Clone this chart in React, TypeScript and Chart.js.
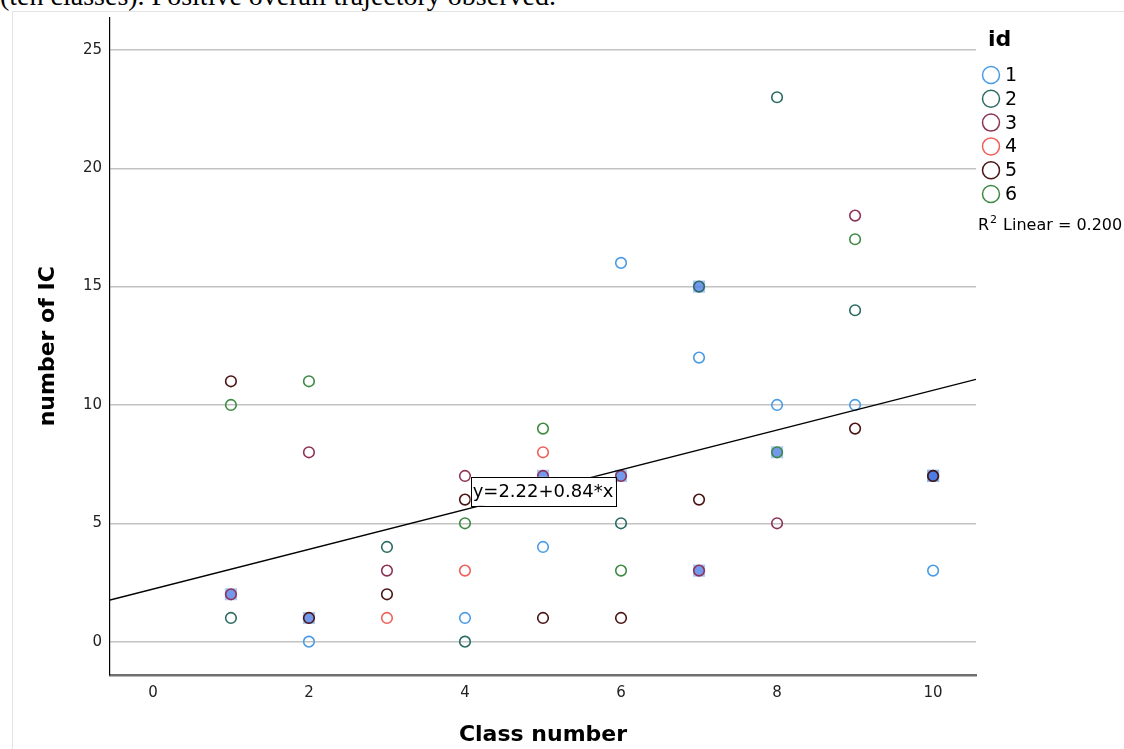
import React, { useEffect, useRef } from "react";
import { Chart, registerables } from "chart.js";

Chart.register(...registerables);

// ---------- data ----------
const classTicks = [0, 2, 4, 6, 8, 10];
const valueTicks = [0, 5, 10, 15, 20, 25];
const idLabels = ["1", "2", "3", "4", "5", "6"];

const id1Class = [2, 4, 5, 6, 7, 8, 9, 10];
const id1Value = [0, 1, 4, 16, 12, 10, 10, 3];
const id2Class = [1, 3, 4, 6, 8, 9];
const id2Value = [1, 4, 0, 5, 23, 14];
const id3Class = [2, 3, 4, 8, 9];
const id3Value = [8, 3, 7, 5, 18];
const id4Class = [3, 4, 5];
const id4Value = [1, 3, 8];
const id5Class = [1, 3, 4, 5, 6, 7, 9];
const id5Value = [11, 2, 6, 1, 1, 6, 9];
const id6Class = [1, 2, 4, 5, 6, 9];
const id6Value = [10, 11, 5, 9, 3, 17];

// highlighted (selected) points
const selectedClass = [1, 2, 5, 6, 7, 7, 8, 10, 10];
const selectedValue = [2, 1, 7, 7, 15, 3, 8, 7, 7];
const selectedId = [3, 5, 3, 3, 2, 3, 6, 2, 5];

const fitIntercept = 2.22;
const fitSlope = 0.84;
const rSquared = 0.2;
const fitLabel = "y=2.22+0.84*x";
const fitLabelClass = 5;
const fitLabelValue = 6.35;

const xMin = -0.55;
const xMax = 10.55;
const yMin = -1.41;
const yMax = 26.37;

// ---------- styles ----------
const idColors = ["#4a9be6", "#2a6b63", "#8e3358", "#f0605a", "#4a1414", "#3f8a43"];
const FONT = "'DejaVu Sans', sans-serif";

const seriesClass = [id1Class, id2Class, id3Class, id4Class, id5Class, id6Class];
const seriesValue = [id1Value, id2Value, id3Value, id4Value, id5Value, id6Value];

const toPoints = (xs: number[], ys: number[]) => xs.map((x, i) => ({ x, y: ys[i] }));

const overlayPlugin = {
  id: "overlay",
  afterDatasetsDraw(chart: any) {
    const { ctx, chartArea, scales } = chart;
    // fit equation label
    const px = scales.x.getPixelForValue(fitLabelClass);
    const py = scales.y.getPixelForValue(fitLabelValue);
    ctx.save();
    ctx.font = `18px ${FONT}`;
    const w = ctx.measureText(fitLabel).width + 4;
    const h = 29;
    ctx.fillStyle = "#fff";
    ctx.fillRect(px - w / 2, py - h / 2, w, h);
    ctx.strokeStyle = "#000";
    ctx.lineWidth = 1;
    ctx.strokeRect(Math.round(px - w / 2) + 0.5, Math.round(py - h / 2) + 0.5, Math.round(w), h);
    ctx.fillStyle = "#000";
    ctx.textAlign = "center";
    ctx.textBaseline = "middle";
    ctx.fillText(fitLabel, px, py + 1);
    ctx.restore();

    // legend
    const lx = chartArea.right;
    ctx.save();
    ctx.fillStyle = "#000";
    ctx.textBaseline = "middle";
    ctx.textAlign = "left";
    ctx.font = `bold 22px ${FONT}`;
    ctx.fillText("id", lx + 12, 40);
    idLabels.forEach((lab, i) => {
      const cy = 75 + i * 23.8;
      ctx.beginPath();
      ctx.arc(lx + 15, cy, 8.5, 0, Math.PI * 2);
      ctx.strokeStyle = idColors[i];
      ctx.lineWidth = 1.5;
      ctx.stroke();
      ctx.fillStyle = "#000";
      ctx.font = `19px ${FONT}`;
      ctx.fillText(lab, lx + 29, cy + 1);
    });
    ctx.font = `16px ${FONT}`;
    let tx = lx + 2;
    const ty = 226;
    ctx.fillText("R", tx, ty);
    tx += ctx.measureText("R").width + 1;
    ctx.font = `11px ${FONT}`;
    ctx.fillText("2", tx, ty - 6);
    tx += ctx.measureText("2").width + 6;
    ctx.font = `16px ${FONT}`;
    ctx.fillText(`Linear = ${rSquared.toFixed(3)}`, tx, ty);
    ctx.restore();
  },
};

export default function App() {
  const ref = useRef<HTMLCanvasElement | null>(null);

  useEffect(() => {
    if (!ref.current) return;
    const tickFont = { family: FONT, size: 15 };
    const datasets: any[] = [];

    datasets.push({
      type: "line",
      label: "fit",
      data: [
        { x: xMin, y: fitIntercept + fitSlope * xMin },
        { x: xMax, y: fitIntercept + fitSlope * xMax },
      ],
      borderColor: "#000",
      borderWidth: 1.4,
      pointRadius: 0,
      showLine: true,
      fill: false,
      order: 1,
    });

    seriesClass.forEach((xs, i) => {
      datasets.push({
        type: "scatter",
        label: idLabels[i],
        data: toPoints(xs, seriesValue[i]),
        pointRadius: 5.3,
        pointBorderWidth: 1.6,
        pointBackgroundColor: "rgba(0,0,0,0)",
        pointBorderColor: idColors[i],
        order: 2,
      });
    });

    datasets.push({
      type: "scatter",
      label: "selected",
      data: toPoints(selectedClass, selectedValue),
      pointRadius: 5.3,
      pointBorderWidth: 1.6,
      pointBackgroundColor: "rgba(55,105,225,0.5)",
      pointBorderColor: selectedId.map((id) => idColors[id - 1]),
      order: 3,
    });

    datasets.push({
      type: "scatter",
      label: "selectedBox",
      data: toPoints(selectedClass, selectedValue),
      pointStyle: "rect",
      pointRadius: 8.6,
      pointBorderWidth: 0,
      pointBackgroundColor: "rgba(120,165,240,0.6)",
      pointBorderColor: "rgba(0,0,0,0)",
      order: 4,
    });

    const chart = new Chart(ref.current, {
      type: "scatter",
      data: { datasets },
      options: {
        animation: false,
        responsive: false,
        devicePixelRatio: 1,
        layout: { padding: { left: 0, top: 17.5, right: 148, bottom: 0 } },
        plugins: { legend: { display: false }, tooltip: { enabled: false } },
        scales: {
          x: {
            type: "linear",
            min: xMin,
            max: xMax,
            afterBuildTicks: (s: any) => {
              s.ticks = classTicks.map((v) => ({ value: v }));
            },
            afterFit: (s: any) => {
              s.height = 74;
            },
            grid: { display: false, drawTicks: false },
            border: { display: true, color: "#707070", width: 2.5 },
            ticks: { font: tickFont, color: "#222", padding: 9, maxRotation: 0, autoSkip: false },
            title: {
              display: true,
              text: "Class number",
              color: "#000",
              font: { family: FONT, size: 22, weight: "bold" },
              padding: { top: 0, bottom: 1 },
            },
          },
          y: {
            type: "linear",
            min: yMin,
            max: yMax,
            afterBuildTicks: (s: any) => {
              s.ticks = valueTicks.map((v) => ({ value: v }));
            },
            afterFit: (s: any) => {
              s.width = 110;
            },
            grid: { color: "#c2c2c2", lineWidth: 1.5, drawTicks: false },
            border: { display: true, color: "#000", width: 1.2 },
            ticks: { font: tickFont, color: "#222", padding: 8, autoSkip: false },
            title: {
              display: true,
              text: "number of IC",
              color: "#000",
              font: { family: FONT, size: 22, weight: "bold" },
              padding: { top: 35, bottom: 0 },
            },
          },
        },
      },
      plugins: [overlayPlugin],
    } as any);
    return () => chart.destroy();
  }, []);

  return (
    <div
      style={{
        position: "absolute",
        left: 0,
        top: 0,
        width: 1124,
        height: 749,
        overflow: "hidden",
        background: "#fff",
      }}
    >
      <div
        style={{
          position: "absolute",
          left: 0,
          top: -18.5,
          fontFamily: "'Liberation Serif', 'Times New Roman', serif",
          fontSize: 28,
          lineHeight: "28px",
          whiteSpace: "nowrap",
          color: "#000",
        }}
      >
        (ten classes). Positive overall trajectory observed.
      </div>
      <div
        style={{
          position: "absolute",
          left: 12,
          top: 11,
          width: 1200,
          height: 800,
          borderLeft: "1px solid #e4e4e4",
          borderTop: "1px solid #e4e4e4",
        }}
      />
      <canvas
        ref={ref}
        width={1124}
        height={749}
        style={{ position: "absolute", left: 0, top: 0, width: 1124, height: 749 }}
      />
    </div>
  );
}
